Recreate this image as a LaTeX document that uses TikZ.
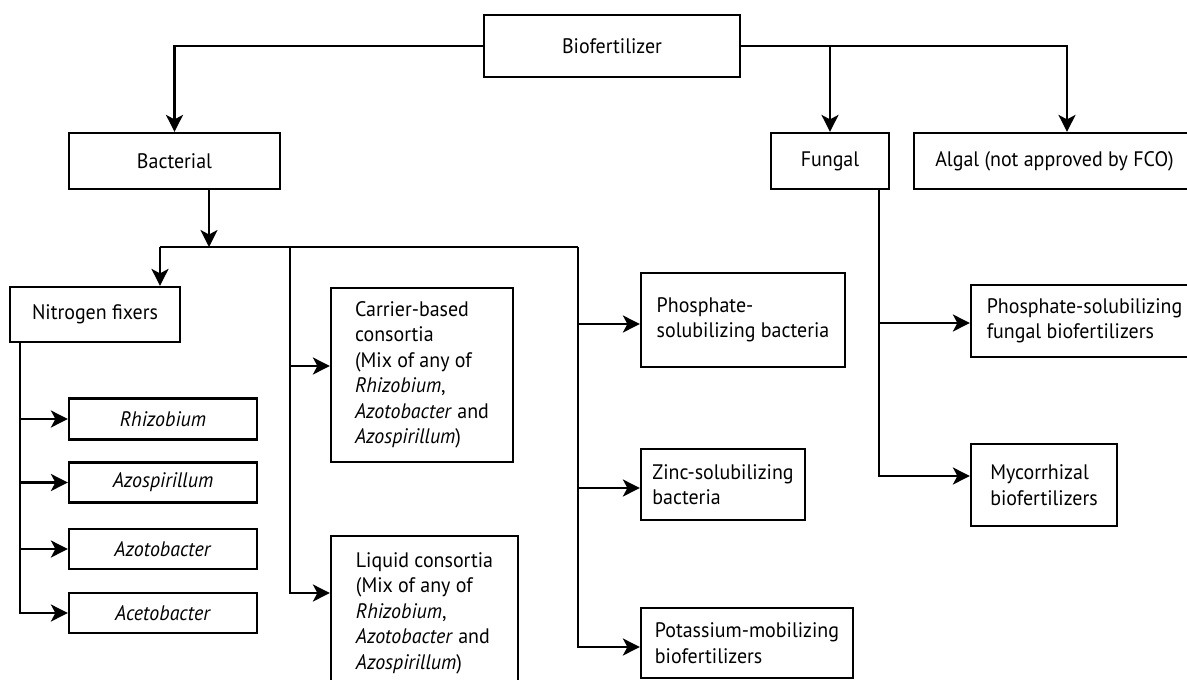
\documentclass[tikz,border=0pt]{standalone}
\usepackage{fontspec}
\setmainfont{PT Sans}[FakeStretch=0.95]
\usetikzlibrary{arrows.meta}
\begin{document}
\begin{tikzpicture}[x=1pt,y=-1pt,
  font=\fontsize{21}{25.5}\selectfont,
  line width=2.2pt,
  box/.style={draw, inner sep=2pt, align=center},
  lbox/.style={draw, inner sep=2pt, align=left},
  arr/.style={-{Stealth[length=17pt,width=17pt,inset=4.5pt]}}]
\useasboundingbox (0,0) rectangle (1187,680);
% nodes
\node[box, minimum width=256pt, minimum height=62pt] (bio) at (612,46) {Biofertilizer};
\node[box, minimum width=211pt, minimum height=56pt] (bac) at (174.5,161) {Bacterial};
\node[box, minimum width=118pt, minimum height=56pt] (fun) at (830,161) {Fungal};
\node[box, minimum width=281pt, minimum height=56pt] (alg) at (1054.5,161) {Algal (not approved by FCO)};
\node[box, minimum width=170pt, minimum height=55pt] (nit) at (95,314.5) {Nitrogen fixers};
\node[box, minimum width=188pt, minimum height=41pt] (rhi) at (163,419) {\textit{Rhizobium}};
\node[box, minimum width=188pt, minimum height=40pt] (azs) at (163,482.5) {\textit{Azospirillum}};
\node[box, minimum width=188pt, minimum height=40pt] (azt) at (163,549) {\textit{Azotobacter}};
\node[box, minimum width=188pt, minimum height=40pt] (ace) at (163,613) {\textit{Acetobacter}};
\node[lbox, minimum width=182pt, minimum height=174pt] (car) at (422,375)
  {Carrier-based\\consortia\\(Mix of any of\\\textit{Rhizobium},\\\textit{Azotobacter} and\\\textit{Azospirillum})};
\node[lbox, minimum width=187pt, minimum height=154pt] (liq) at (424.5,613)
  {Liquid consortia\\(Mix of any of\\\textit{Rhizobium},\\\textit{Azotobacter} and\\\textit{Azospirillum})};
\node[lbox, minimum width=204pt, minimum height=94pt] (pho) at (743,320) {Phosphate-\\solubilizing bacteria};
\node[lbox, minimum width=164pt, minimum height=71pt] (zin) at (723,484.5) {Zinc-solubilizing\\bacteria};
\node[lbox, minimum width=212pt, minimum height=70pt] (pot) at (747,643) {Potassium-mobilizing\\biofertilizers};
\node[lbox, minimum width=227pt, minimum height=72pt] (psf) at (1084.5,321) {Phosphate-solubilizing\\fungal biofertilizers};
\node[lbox, minimum width=146pt, minimum height=82pt] (myc) at (1044,485) {Mycorrhizal\\biofertilizers};
% branch points
\coordinate (busL) at (160,247);
\coordinate (busB) at (209,247);
\coordinate (busC) at (290,247);
\coordinate (busR) at (578,247);
\coordinate (kCar) at (290,366);
\coordinate (kLiq) at (290,593);
\coordinate (kP) at (578,324);
\coordinate (kZ) at (578,488);
\coordinate (kK) at (578,647);
\coordinate (nL) at (20,0);
\coordinate (kR) at (20,419);
\coordinate (kS) at (20,482.5);
\coordinate (kT) at (20,549);
\coordinate (fL) at (879,0);
\coordinate (kF) at (879,323);
\coordinate (kM) at (879,476);
% connectors from Biofertilizer
\draw[arr] (bio.west) -| (bac.north);
\draw[arr] (bio.east) -| ([xshift=12.5pt]alg.north);
\draw[arr] (bio.east -| fun.north) -- (fun.north);
% bacterial tree
\draw[arr] (bac.south -| busB) -- (busB);
\draw (busL) -- (busR);
\draw[arr] (busL) -- (busL |- nit.north);
\draw[arr] (busC) |- (liq.west |- kLiq);
\draw[arr] (kCar) -- (car.west |- kCar);
\draw[arr] (busR) |- (pot.west |- kK);
\draw[arr] (kP) -- (pho.west |- kP);
\draw[arr] (kZ) -- (zin.west |- kZ);
% nitrogen fixers
\draw[arr] (nit.south -| nL) |- (ace.west);
\draw[arr] (kR) -- (rhi.west);
\draw[arr] (kS) -- (azs.west);
\draw[arr] (kT) -- (azt.west);
% fungal
\draw[arr] (fun.south -| fL) |- (myc.west |- kM);
\draw[arr] (kF) -- (psf.west |- kF);
\end{tikzpicture}
\end{document}
